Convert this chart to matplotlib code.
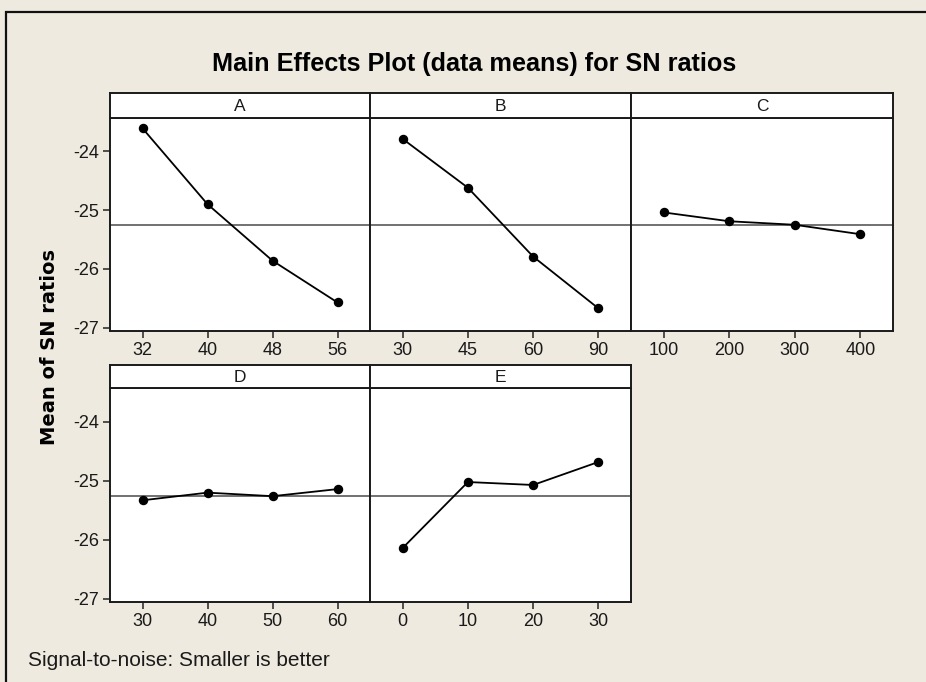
import matplotlib.pyplot as plt
from matplotlib.patches import Rectangle

# ============ DATA ============
factors = ['A', 'B', 'C', 'D', 'E']
levels_A = ['32', '40', '48', '56']
levels_B = ['30', '45', '60', '90']
levels_C = ['100', '200', '300', '400']
levels_D = ['30', '40', '50', '60']
levels_E = ['0', '10', '20', '30']

sn_A = [-23.61, -24.90, -25.86, -26.57]
sn_B = [-23.79, -24.62, -25.79, -26.67]
sn_C = [-25.04, -25.19, -25.25, -25.41]
sn_D = [-25.33, -25.20, -25.26, -25.14]
sn_E = [-26.14, -25.02, -25.07, -24.68]

grand_mean = -25.25
y_ticks = [-24, -25, -26, -27]

# ============ STYLE ============
W, H = 926, 682
BG = '#EEEAE0'
SANS = ['Liberation Sans', 'DejaVu Sans']

fig = plt.figure(figsize=(W / 100, H / 100), dpi=100, facecolor=BG)


def px_rect(x0, y0, x1, y1):
    # pixel box (top-left origin) -> figure fraction [l, b, w, h]
    return [x0 / W, 1 - y1 / H, (x1 - x0) / W, (y1 - y0) / H]


# outer frame: only the left and top edges fall inside the picture
fig.patches.append(Rectangle((6 / W, -0.1), 1.2, 1.1 - 12 / H,
                             transform=fig.transFigure, fill=False,
                             edgecolor='#111111', linewidth=1.6))

col_x = [(110, 370), (370, 631), (631, 893)]
rows = [(93.3, 117.7, 330.7), (365, 388.3, 601.7)]

panels = [
    ('A', levels_A, sn_A, 0, 0),
    ('B', levels_B, sn_B, 0, 1),
    ('C', levels_C, sn_C, 0, 2),
    ('D', levels_D, sn_D, 1, 0),
    ('E', levels_E, sn_E, 1, 1),
]

for name, levels, vals, r, c in panels:
    x0, x1 = col_x[c]
    s_top, s_bot, a_bot = rows[r]

    ax = fig.add_axes(px_rect(x0, s_bot, x1, a_bot))
    ax.set_facecolor('white')
    pos = list(range(1, len(levels) + 1))
    ax.axhline(grand_mean, color='#4a4a4a', linewidth=1.1, zorder=1)
    ax.plot(pos, vals, color='black', linewidth=1.3, marker='o',
            markersize=5.8, zorder=3)
    ax.set_xlim(0.5, 4.5)
    ax.set_ylim(-27.05, -23.43)
    ax.set_xticks(pos)
    ax.set_xticklabels(levels)
    ax.set_yticks(y_ticks)
    ax.set_yticklabels([str(t) for t in y_ticks])
    ax.tick_params(direction='out', length=5, width=1.2, color='#333333',
                   labelsize=13, pad=3, labelcolor='#1a1a1a')
    for lab in ax.get_xticklabels() + ax.get_yticklabels():
        lab.set_family(SANS)
    if c != 0:
        ax.tick_params(axis='y', left=False, labelleft=False)
    for sp in ax.spines.values():
        sp.set_linewidth(1.4)
        sp.set_color('#1a1a1a')

    # strip header
    sax = fig.add_axes(px_rect(x0, s_top, x1, s_bot))
    sax.set_facecolor('white')
    sax.set_xticks([])
    sax.set_yticks([])
    for sp in sax.spines.values():
        sp.set_linewidth(1.4)
        sp.set_color('#1a1a1a')
    sax.text(0.5, 0.45, name, ha='center', va='center', fontsize=12.5,
             family=SANS, color='#1a1a1a', transform=sax.transAxes)

fig.text(474 / W, 1 - 64 / H, 'Main Effects Plot (data means) for SN ratios',
         ha='center', va='center', fontsize=18.2, fontweight='bold',
         family=SANS)
fig.text(50 / W, 1 - 347 / H, 'Mean of SN ratios', rotation=90,
         ha='center', va='center', fontsize=14, fontweight='bold',
         family=['DejaVu Sans'])
fig.text(28 / W, 1 - 660 / H, 'Signal-to-noise: Smaller is better',
         ha='left', va='center', fontsize=15, family=SANS,
         color='#1a1a1a')

fig.savefig('out.png', dpi=100, facecolor=BG)
